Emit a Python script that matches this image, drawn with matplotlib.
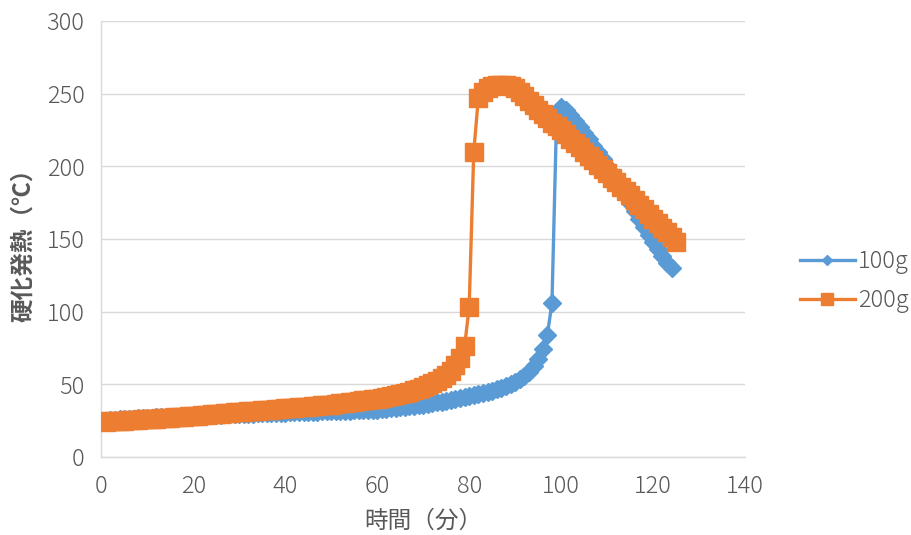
import numpy as np
import matplotlib
matplotlib.use("Agg")
import matplotlib.pyplot as plt

plt.rcParams['font.family'] = ['Noto Sans CJK JP', 'DejaVu Sans']

# 経過時間（分）
time_200g = list(range(1, 126))
time_100g = list(range(1, 125))

temp_200g = [
    24.2, 24.4, 24.6, 24.8, 25.0, 25.2, 25.4, 25.6, 25.8,
    26.0, 26.2, 26.4, 26.6, 26.8, 27.0, 27.2, 27.4, 27.6, 27.8,
    28.0, 28.3, 28.6, 28.9, 29.2, 29.5, 29.8, 30.1, 30.4, 30.7,
    31.0, 31.2, 31.4, 31.6, 31.8, 32.0, 32.3, 32.6, 32.9, 33.2,
    33.5, 33.7, 33.9, 34.1, 34.3, 34.5, 34.8, 35.1, 35.4, 35.7,
    36.0, 36.4, 36.8, 37.2, 37.6, 38.0, 38.4, 38.8, 39.2, 39.6,
    40.0, 40.5, 41.1, 41.7, 42.3, 43.0, 43.8, 44.7, 45.7, 46.8,
    48.0, 49.3, 50.7, 52.2, 54.0, 56.0, 59.0, 63.0, 68.0, 76.0,
    103.0, 210.0, 247.0, 251.0, 254.0, 255.5, 256.0, 256.0, 256.0, 255.0,
    253.5, 251.0, 248.0, 245.0, 242.0, 239.0, 236.0, 233.0, 230.0, 227.5,
    225.0, 222.0, 219.0, 216.0, 213.0, 210.0, 207.0, 204.0, 201.0, 198.0,
    195.0, 192.0, 189.0, 186.0, 183.0, 180.0, 176.5, 173.5, 170.5, 167.0,
    164.0, 161.0, 157.5, 154.5, 151.0, 148.0,
]

temp_100g = [
    24.8, 25.2, 25.5, 25.8, 26.0, 26.2, 26.4, 26.6, 26.8,
    27.0, 27.1, 27.2, 27.3, 27.4, 27.5, 27.6, 27.7, 27.8, 27.9,
    28.0, 28.2, 28.4, 28.6, 28.8, 29.0, 29.1, 29.2, 29.3, 29.4,
    29.5, 29.6, 29.7, 29.8, 29.9, 30.0, 30.1, 30.2, 30.3, 30.4,
    30.5, 30.6, 30.7, 30.8, 30.9, 31.0, 31.1, 31.2, 31.3, 31.4,
    31.5, 31.6, 31.7, 31.8, 31.9, 32.0, 32.1, 32.2, 32.3, 32.4,
    32.5, 32.8, 33.1, 33.4, 33.7, 34.0, 34.4, 34.8, 35.2, 35.6,
    36.0, 36.5, 37.0, 37.5, 38.0, 38.5, 39.2, 39.9, 40.6, 41.3,
    42.0, 42.7, 43.4, 44.1, 44.8, 45.5, 46.5, 47.5, 48.8, 50.2,
    51.7, 53.5, 55.6, 58.5, 62.5, 67.5, 74.0, 84.0, 106.0, 234.0,
    241.0, 238.5, 235.0, 231.0, 227.0, 223.0, 218.5, 214.0, 209.5, 205.0,
    200.0, 195.5, 191.0, 186.0, 180.5, 175.0, 169.5, 164.0, 158.5, 153.0,
    148.0, 143.0, 138.0, 133.5, 130.0,
]

x_ticks = [0, 20, 40, 60, 80, 100, 120, 140]
y_ticks = [0, 50, 100, 150, 200, 250, 300]

blue = '#5B9BD5'
orange = '#ED7D31'
grid_c = '#D9D9D9'
text_c = '#595959'

fig = plt.figure(figsize=(9.11, 5.35), dpi=100)
ax = fig.add_axes([0.111, 0.146, 0.707, 0.815])

l1, = ax.plot(time_100g, temp_100g, color=blue, lw=2.4, marker='D',
              markersize=8.8, label='100g', zorder=3)
l2, = ax.plot(time_200g, temp_200g, color=orange, lw=2.4, marker='s',
              markersize=13.5, label='200g', zorder=4)

ax.set_xlim(0, 140)
ax.set_ylim(0, 300)
ax.set_xticks(x_ticks)
ax.set_yticks(y_ticks)
ax.yaxis.grid(True, color=grid_c, lw=1)
ax.set_axisbelow(True)
for s in ['top', 'right']:
    ax.spines[s].set_visible(False)
for s in ['left', 'bottom']:
    ax.spines[s].set_color(grid_c)
    ax.spines[s].set_linewidth(1)
ax.tick_params(length=0, labelsize=17, labelcolor=text_c, pad=12)
for lab in ax.get_xticklabels() + ax.get_yticklabels():
    lab.set_fontweight('light')

ax.set_xlabel('時間（分）', fontsize=17, color=text_c, labelpad=8)
ax.set_ylabel('硬化発熱（℃）', fontsize=17, color=text_c, labelpad=8,
              fontweight='bold')

leg = fig.legend(handles=[l1, l2], loc='center left',
                 bbox_to_anchor=(0.878, 0.475), frameon=False,
                 borderpad=0, borderaxespad=0,
                 fontsize=17, handlelength=2.33, handletextpad=0.13,
                 labelspacing=0.6)
for t in leg.get_texts():
    t.set_color(text_c)
    t.set_fontweight('light')
leg.legend_handles[0].set_markersize(5.6)
leg.legend_handles[1].set_markersize(8.6)

fig.savefig('out.png', dpi=100)
